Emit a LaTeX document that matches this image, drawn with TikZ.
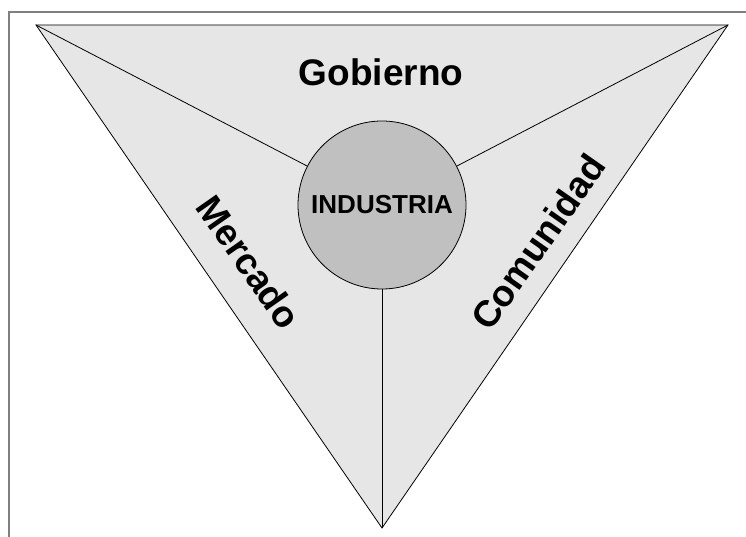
\documentclass[tikz,border=0pt]{standalone}
\usepackage{fontspec}
\setmainfont{Liberation Sans}
\definecolor{trigray}{RGB}{230,230,230}
\definecolor{circgray}{RGB}{192,192,192}
\definecolor{framegray}{RGB}{128,128,128}

\begin{document}
\begin{tikzpicture}[x=1pt, y=-1pt, line width=0.8pt,
    lbl/.style={font=\bfseries\fontsize{37}{42}\selectfont, inner sep=0pt}]
    \useasboundingbox (0,0) rectangle (746,537);
    \draw[framegray, line width=1.5pt] (9,537) -- (9,12) -- (746,12);

    \coordinate(gl) at (36,25);
    \coordinate(gr) at (728,25);
    \coordinate(bt) at (382,528);
    \draw[fill=trigray] (gl) -- (gr) -- (bt) -- cycle;

    \node(ind)[draw, shape=circle, fill=circgray, minimum size=168pt, inner sep=0pt,
        font=\bfseries\fontsize{26}{30}\selectfont] at (382,205) {INDUSTRIA};

    \draw (gl) -- (ind);
    \draw (gr) -- (ind);
    \draw (bt) -- (ind);

    \node(gob)[lbl, anchor=base] at (381,86) {Gobierno};
    \node(mer)[lbl, rotate=-55] at (249,262) {Mercado};
    \node(com)[lbl, rotate=55] at (538,242) {Comunidad};
\end{tikzpicture}
\end{document}
